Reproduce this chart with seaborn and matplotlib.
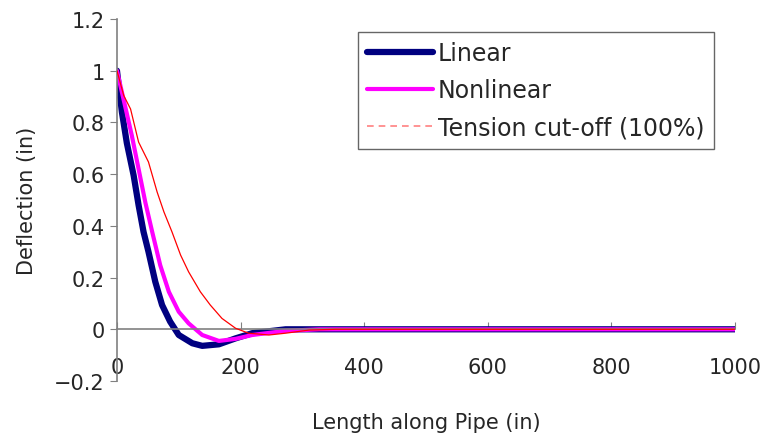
import matplotlib
matplotlib.use('Agg')
import matplotlib.pyplot as plt
from matplotlib.lines import Line2D
import seaborn as sns
import pandas as pd

# Deflection along pipe
linear_x = [0, 8, 16, 27, 35, 43, 51, 62, 73, 86, 100, 122, 138, 165, 192, 219, 273, 400, 600, 800, 1000]
linear_y = [1.0, 0.84, 0.72, 0.595, 0.48, 0.377, 0.30, 0.184, 0.094, 0.03, -0.022, -0.054, -0.064, -0.058,
            -0.035, -0.015, 0.0, 0.0, 0.0, 0.0, 0.0]

nonlin_x = [0, 13, 24, 35, 46, 57, 70, 84, 100, 116, 138, 165, 192, 219, 273, 327, 600, 1000]
nonlin_y = [1.0, 0.865, 0.75, 0.62, 0.49, 0.377, 0.248, 0.145, 0.068, 0.023, -0.022, -0.045, -0.037,
            -0.022, -0.006, 0.0, 0.0, 0.0]

tension_x = [0, 11, 22, 35, 51, 65, 76, 89, 103, 116, 135, 151, 170, 192, 213, 246, 273, 311, 354, 1000]
tension_y = [1.0, 0.904, 0.852, 0.724, 0.647, 0.531, 0.454, 0.377, 0.287, 0.222, 0.145, 0.094, 0.042,
             0.004, -0.015, -0.022, -0.015, -0.003, 0.0, 0.0]

series_labels = ['Linear', 'Nonlinear', 'Tension cut-off (100%)']
x_ticks = [0, 200, 400, 600, 800, 1000]
y_ticks = [-0.2, 0, 0.2, 0.4, 0.6, 0.8, 1, 1.2]

sns.set_style("white")
plt.rcParams['font.family'] = ['DejaVu Sans']

fig = plt.figure(figsize=(7.63, 4.39), dpi=100)
ax = fig.add_axes([0.1533, 0.1298, 0.8097, 0.8246])

df_lin = pd.DataFrame({'x': linear_x, 'y': linear_y})
df_non = pd.DataFrame({'x': nonlin_x, 'y': nonlin_y})
df_ten = pd.DataFrame({'x': tension_x, 'y': tension_y})

sns.lineplot(data=df_ten, x='x', y='y', ax=ax, color='#FF0000', linewidth=0.9, zorder=3)
sns.lineplot(data=df_lin, x='x', y='y', ax=ax, color='#000080', linewidth=4.5, zorder=1)
sns.lineplot(data=df_non, x='x', y='y', ax=ax, color='#FF00FF', linewidth=3.0, zorder=2)

ax.set_xlim(0, 1000)
ax.set_ylim(-0.2, 1.2)
ax.set_xticks(x_ticks)
ax.set_yticks(y_ticks)
ax.set_xticklabels([str(t) for t in x_ticks])
ax.set_yticklabels(['\u22120.2', '0', '0.2', '0.4', '0.6', '0.8', '1', '1.2'])

# x-axis sits at y=0, like the Excel original
ax.spines['bottom'].set_position(('data', 0))
ax.spines['top'].set_visible(False)
ax.spines['right'].set_visible(False)
for s in ['bottom', 'left']:
    ax.spines[s].set_color('#808080')
    ax.spines[s].set_linewidth(1.2)
ax.tick_params(axis='x', direction='in', length=5, color='#808080', pad=20, labelsize=15)
ax.tick_params(axis='y', direction='out', length=5, color='#808080', pad=4, labelsize=15)
ax.tick_params(left=True, bottom=True)

ax.set_xlabel('Length along Pipe (in)', fontsize=15)
ax.xaxis.set_label_coords(0.5, -0.085)
ax.set_ylabel('Deflection (in)', fontsize=15)
ax.yaxis.set_label_coords(-0.13, 0.5)

handles = [
    Line2D([], [], color='#000080', linewidth=4.5, solid_capstyle='round'),
    Line2D([], [], color='#FF00FF', linewidth=3.0),
    Line2D([], [], color='#FF8080', linewidth=1.2, linestyle=(0, (4, 3))),
]
leg = ax.legend(handles, series_labels, loc='upper right', bbox_to_anchor=(0.966, 0.964),
                borderaxespad=0, fontsize=17, frameon=True, fancybox=False,
                handlelength=2.8, handletextpad=0.2, labelspacing=0.55, borderpad=0.4)
leg.get_frame().set_edgecolor('#404040')
leg.get_frame().set_linewidth(1.0)

fig.savefig('out.png', dpi=100)
